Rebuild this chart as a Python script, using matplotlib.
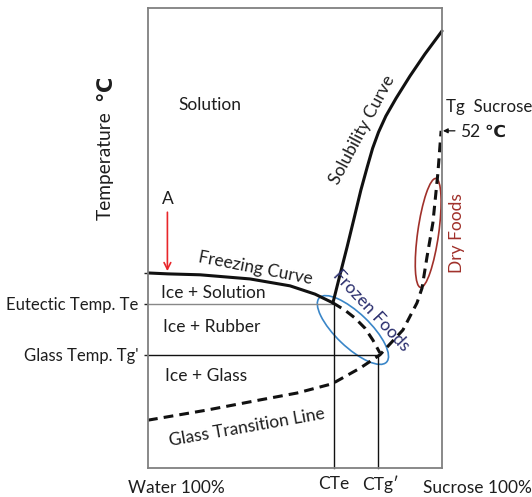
import matplotlib
matplotlib.use("Agg")
import matplotlib.pyplot as plt
import matplotlib.transforms as mtransforms
from matplotlib.patches import Ellipse
import numpy as np

plt.rcParams['font.family'] = ['Lato', 'DejaVu Sans']

# ---- data (schematic units: x = % sucrose, y = relative temperature) ----
freeze_x = [0, 6.8, 17.7, 34.7, 48.3, 56.8, 62.9]
freeze_y = [42.4, 42.2, 42.0, 41.1, 39.6, 37.8, 35.9]

freeze_ext_x = [62.9, 67.0, 70.4, 73.8, 76.5, 78.9]
freeze_ext_y = [35.9, 34.3, 32.6, 30.4, 27.8, 25.0]

glass_x = [0, 20.1, 38.1, 50.7, 62.6, 72.1, 78.9, 86.7, 91.5, 93.2, 94.9, 96.9, 98.6, 99.7]
glass_y = [10.4, 12.6, 14.8, 16.3, 18.3, 21.7, 24.6, 30.0, 35.9, 39.1, 45.9, 53.3, 64.1, 73.3]

solub_x = [62.9, 65.3, 67.7, 70.1, 72.4, 74.6, 76.4, 78.4, 80.9, 84.4, 89.1, 94.2, 100]
solub_y = [35.9, 42.0, 48.0, 54.3, 60.4, 65.5, 69.5, 73.0, 76.5, 80.4, 85.2, 90.0, 95.0]

T_freeze0 = 42.4
T_e = 35.7
T_g_prime = 24.6
C_te = 63.3
C_tg_prime = 78.2
T_g_sucrose = 73.3

ytick_vals = [T_freeze0, T_e, T_g_prime]
ytick_labels = ['', 'Eutectic Temp. Te', "Glass Temp. Tg'"]

# ---- figure ----
W, H = 532, 497
fig = plt.figure(figsize=(W / 100, H / 100), dpi=100)
ax = fig.add_axes([148 / W, 1 - 468 / H, (442 - 148) / W, (468 - 8) / H])
ax.set_xlim(0, 100)
ax.set_ylim(0, 100)

for s in ax.spines.values():
    s.set_color('#808080')
    s.set_linewidth(1.3)

fs = 12.5
tc = '#1e1e1e'

ax.set_xticks([])
ax.set_yticks(ytick_vals)
ax.set_yticklabels(ytick_labels, fontsize=12, color=tc)
ax.tick_params(axis='y', direction='out', length=3, width=1, color='#222222', pad=4)

# reference lines
ax.plot([0, C_te], [T_e, T_e], color='#888888', lw=1.0)
ax.plot([0, C_tg_prime], [T_g_prime, T_g_prime], color='#111111', lw=1.0)
ax.plot([C_te, C_te], [0, T_e], color='#111111', lw=1.0, clip_on=False)
ax.plot([C_tg_prime, C_tg_prime], [0, T_g_prime], color='#111111', lw=1.0, clip_on=False)

# curves
ax.plot(freeze_x, freeze_y, color='#111111', lw=2.2, solid_capstyle='round',
        solid_joinstyle='round')
ax.plot(freeze_ext_x, freeze_ext_y, color='#111111', lw=2.2, ls=(0, (3.2, 2)))
ax.plot(glass_x, glass_y, color='#111111', lw=2.2, ls=(0, (3.2, 2)))
ax.plot(solub_x, solub_y, color='#111111', lw=2.2, solid_capstyle='round',
        solid_joinstyle='round', clip_on=False)

# ellipses (sizes in pixels, centred at data points)
def add_ellipse(cx, cy, w, h, ang, color):
    tr = mtransforms.Affine2D() + mtransforms.ScaledTranslation(cx, cy, ax.transData)
    e = Ellipse((0, 0), w, h, angle=ang, fill=False, edgecolor=color, lw=1.2, transform=tr)
    ax.add_patch(e)

add_ellipse(69.7, 30.0, 93, 34, -43.7, '#3a86c8')
add_ellipse(95.3, 51.1, 110, 21, 82, '#a0302a')

# region labels
ax.text(21.1, 78.9, 'Solution', ha='center', va='center', fontsize=fs, color=tc)
ax.text(22.1, 38.0, 'Ice + Solution', ha='center', va='center', fontsize=fs, color=tc)
ax.text(21.8, 30.7, 'Ice + Rubber', ha='center', va='center', fontsize=fs, color=tc)
ax.text(19.7, 20.0, 'Ice + Glass', ha='center', va='center', fontsize=fs, color=tc)

ax.text(36.7, 43.4, 'Freezing Curve', ha='center', va='center', fontsize=fs,
        rotation=-11, color=tc)
ax.text(33.7, 8.9, 'Glass Transition Line', ha='center', va='center', fontsize=fs,
        rotation=10, color=tc)
ax.text(75.9, 34.3, 'Frozen Foods', ha='center', va='center', fontsize=fs,
        rotation=-47, color='#2b2f6e')
ax.text(73.0, 73.5, 'Solubility Curve', ha='center', va='center', fontsize=fs,
        rotation=62, color=tc)
ax.text(105.1, 51.1, 'Dry Foods', ha='center', va='center', fontsize=fs,
        rotation=90, color='#a0302a', clip_on=False)

# Tg sucrose annotation
ax.text(101.4, 78.5, 'Tg  Sucrose', ha='left', va='center', fontsize=12.2,
        color=tc, clip_on=False)
ax.text(106.2, 73.0, '52', ha='left', va='center', fontsize=fs, color=tc, clip_on=False)
ax.text(114.3, 73.0, '℃', ha='left', va='center', fontsize=fs, fontweight='bold',
        family=['DejaVu Sans'], color=tc, clip_on=False)
ax.annotate('', xy=(100.3, T_g_sucrose), xytext=(104.4, T_g_sucrose),
            arrowprops=dict(arrowstyle='-|>', color='#111111', lw=0.9,
                            mutation_scale=7, shrinkA=0, shrinkB=0),
            annotation_clip=False)

# point A and red arrow
ax.text(6.6, 58.5, 'A', ha='center', va='center', fontsize=fs, color=tc)
ax.annotate('', xy=(6.6, 42.8), xytext=(6.6, 55.6),
            arrowprops=dict(arrowstyle='->', color='#e8262a', lw=1.2,
                            mutation_scale=12, shrinkA=0, shrinkB=0))

# axis end labels
ax.text(9.5, -4.3, 'Water 100%', ha='center', va='center', fontsize=fs, color=tc,
        clip_on=False)
ax.text(112.0, -4.3, 'Sucrose 100%', ha='center', va='center', fontsize=fs, color=tc,
        clip_on=False)
ax.text(C_te, -3.5, 'CTe', ha='center', va='center', fontsize=fs, color=tc,
        clip_on=False)
ax.text(C_tg_prime + 0.8, -3.5, 'CTg′', ha='center', va='center', fontsize=fs,
        color=tc, clip_on=False)

# y-axis title
ax.text(-14.5, 65.7, 'Temperature', ha='center', va='center', fontsize=13.8,
        rotation=90, color=tc, clip_on=False)
ax.text(-14.5, 82.6, '℃', ha='center', va='center', fontsize=15, rotation=90,
        fontweight='bold', family=['DejaVu Sans'], color=tc, clip_on=False)

fig.savefig('out.png', dpi=100)
